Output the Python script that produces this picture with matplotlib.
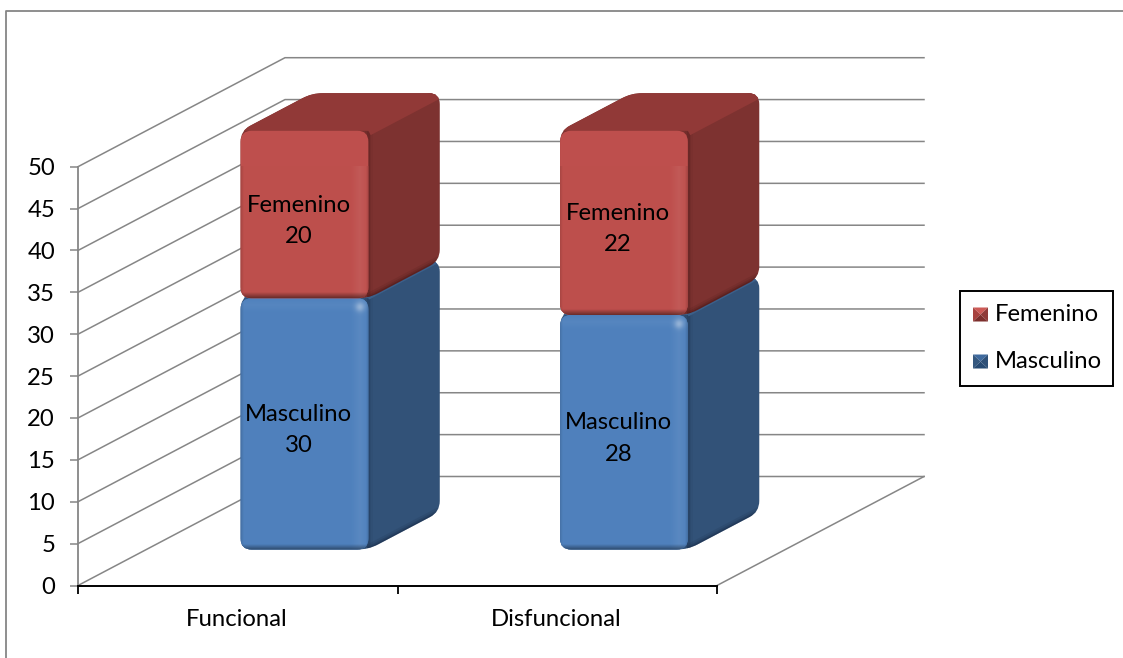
import numpy as np
from matplotlib import pyplot as plt
from matplotlib.patches import PathPatch, Polygon, Rectangle
from matplotlib.path import Path

categories = ['Funcional', 'Disfuncional']
masculino = [30, 28]
femenino = [20, 22]
yticks = list(range(0, 55, 5))

W, H = 1123, 658
# front plane of the chart in pixels
X0, X1 = 78, 717
Y0, Y1 = 585.5, 166.7
PX = (X1 - X0) / 2
PY = (Y0 - Y1) / 50
# oblique shift of the back wall, in data units
DX = 207 / PX
DY = 109 / PY
F0, F1 = 0.33, 0.675
BAR_W = 0.40
GRID = '#868686'
FS = 17.2

plt.rcParams['font.family'] = ['Lato', 'DejaVu Sans']


def rounded_path(pts, r):
    # closed path with rounded corners, r is in pixels
    pts = np.array(pts, float)
    n = len(pts)
    verts, codes = [], []
    for i in range(n):
        p = pts[i]
        prev = pts[i - 1]
        nxt = pts[(i + 1) % n]
        d1 = np.hypot((prev[0] - p[0]) * PX, (prev[1] - p[1]) * PY)
        d2 = np.hypot((nxt[0] - p[0]) * PX, (nxt[1] - p[1]) * PY)
        a = p + (prev - p) * min(r / d1, 0.5)
        b = p + (nxt - p) * min(r / d2, 0.5)
        verts += [a, p, b]
        codes += [Path.MOVETO if i == 0 else Path.LINETO, Path.CURVE3, Path.CURVE3]
    verts.append(verts[0])
    codes.append(Path.CLOSEPOLY)
    return Path(verts, codes)


def front_shading(base, w, h):
    # bevel of the front face, light on top and right, dark along the bottom
    xx, yy = np.meshgrid(np.arange(w) + 0.5, np.arange(h) + 0.5)
    dl, dr = xx, w - xx
    dt, db = yy, h - yy
    light = np.zeros((h, w))
    light += 0.06 * np.clip(1 - np.abs(dr - 9) / 9, 0, 1)
    light += 0.04 * np.clip(1 - np.abs(dt - 7) / 7, 0, 1)
    light += 0.30 * np.exp(-((dr - 9) ** 2 + (dt - 9) ** 2) / 22)
    dark = 0.45 * np.clip(1 - db / 6, 0, 1) + 0.12 * np.clip(1 - dl / 3, 0, 1) + 0.15 * np.clip(1 - dr / 3, 0, 1)
    img = np.zeros((h, w, 3))
    c = np.array(base)
    for k in range(3):
        img[:, :, k] = c[k] + (1 - c[k]) * light
        img[:, :, k] *= 1 - dark
    return img


def clip_to(artist, patch):
    # drop the axes box from the clip, the boxes stand above the front plane
    artist.set_clip_box(None)
    artist.set_clip_path(patch)


def stroke(ax, a, b, color, px, clip, alpha=1.0, z=3):
    line, = ax.plot([a[0], b[0]], [a[1], b[1]], color=color, lw=px * 0.72, alpha=alpha,
                    solid_capstyle='butt', zorder=z)
    clip_to(line, clip)


def draw_box(ax, xc, v0, v1, front, side, top, dark, ridge, z):
    x0 = xc - BAR_W / 2 + F0 * DX
    x1 = xc + BAR_W / 2 + F0 * DX
    y0 = v0 + F0 * DY
    y1 = v1 + F0 * DY
    ox = (F1 - F0) * DX
    oy = (F1 - F0) * DY

    hull = rounded_path([(x0, y0), (x1, y0), (x1 + ox, y0 + oy), (x1 + ox, y1 + oy),
                         (x0 + ox, y1 + oy), (x0, y1)], 11)
    hp = PathPatch(hull, fc=side, ec='none', clip_on=False, zorder=z)
    ax.add_patch(hp)

    tp = Polygon([(x0, y1), (x1, y1), (x1 + ox, y1 + oy), (x0 + ox, y1 + oy)],
                 fc=top, ec='none', zorder=z + 0.1)
    ax.add_patch(tp)
    clip_to(tp, hp)

    # shadow along the lower slope and next to the front face
    for px, al in [(10, 0.10), (6, 0.15), (3, 0.25)]:
        stroke(ax, (x1, y0), (x1 + ox, y0 + oy), dark, px, hp, al, z + 0.2)
        stroke(ax, (x1, y0), (x1, y1), dark, px, hp, al * 0.5, z + 0.2)
    # soft ridge between the top and the side
    stroke(ax, (x1, y1), (x1 + ox, y1 + oy), top, ridge, hp, 1.0, z + 0.2)

    fp = PathPatch(rounded_path([(x0, y0), (x1, y0), (x1, y1), (x0, y1)], 11),
                   fc=front, ec='none', clip_on=False, zorder=z + 0.3)
    ax.add_patch(fp)
    w = int(round((x1 - x0) * PX))
    h = int(round((y1 - y0) * PY))
    im = ax.imshow(front_shading(front, w, h), extent=(x0, x1, y0, y1), aspect='auto',
                   interpolation='bilinear', zorder=z + 0.4)
    clip_to(im, fp)


fig = plt.figure(figsize=(W / 100, H / 100), dpi=100, facecolor='white')

# page layer in pixel units: outer frame and key
page = fig.add_axes([0, 0, 1, 1], zorder=0)
page.set_xlim(0, W)
page.set_ylim(H, 0)
page.axis('off')
page.plot([6, 6, W], [H, 11, 11], color=GRID, lw=1.3)

ax = fig.add_axes([X0 / W, 1 - Y0 / H, (X1 - X0) / W, (Y0 - Y1) / H], zorder=1)
ax.patch.set_alpha(0)

# walls and floor
for v in yticks:
    ax.plot([0, DX, 2 + DX], [v, v + DY, v + DY], color=GRID, lw=1.1, clip_on=False, zorder=1)
ax.plot([2, 2 + DX], [0, DY], color=GRID, lw=1.1, clip_on=False, zorder=1)

# stacked boxes
centers = [0.495, 1.495]
for xc, m, f in zip(centers, masculino, femenino):
    draw_box(ax, xc, 0, m, (0.31, 0.505, 0.74), (0.195, 0.32, 0.47), (0.235, 0.375, 0.54), (0.05, 0.1, 0.2), 3, 3)
    draw_box(ax, xc, m, m + f, (0.745, 0.31, 0.30), (0.49, 0.195, 0.19), (0.57, 0.225, 0.215), (0.2, 0.05, 0.05), 10, 4)
    lx = xc + F0 * DX - 0.018
    ax.text(lx, F0 * DY + m / 2 - 0.75, f'Masculino\n{m}', ha='center', va='center',
            fontsize=FS, linespacing=1.6, zorder=6, color='black', clip_on=False)
    ax.text(lx, F0 * DY + m + f / 2 - 0.75, f'Femenino\n{f}', ha='center', va='center',
            fontsize=FS, linespacing=1.6, zorder=6, color='black', clip_on=False)

ax.set_xlim(0, 2)
ax.set_ylim(0, 50)
ax.set_yticks(yticks)
ax.set_xticks([0, 1, 2])
ax.set_xticklabels([])
ax.set_xticks([0.4977, 1.4977], minor=True)
ax.set_xticklabels(categories, minor=True, fontsize=FS)
ax.tick_params(axis='x', which='major', length=5.5, width=1.3, color='black')
ax.tick_params(axis='x', which='minor', length=0, pad=17)
ax.tick_params(axis='y', length=5.5, width=1.1, color=GRID, labelsize=FS, pad=11)
for s in ['top', 'right']:
    ax.spines[s].set_visible(False)
ax.spines['left'].set_color(GRID)
ax.spines['left'].set_linewidth(1.3)
ax.spines['bottom'].set_color('black')
ax.spines['bottom'].set_linewidth(1.4)

# key
page.add_patch(Rectangle((960, 291), 153, 95, fc='white', ec='black', lw=1.4))
swatches = [('Femenino', 314.5, ['#cd5a56', '#a8423f', '#7c2f2d', '#8f3a38']),
            ('Masculino', 361.5, ['#3f6a9e', '#35587f', '#264a73', '#2e5078'])]
for name, yc, cols in swatches:
    l, r, t, b = 973, 988, yc - 7, yc + 7
    mid = ((l + r) / 2, yc)
    page.add_patch(Polygon([(l, t), (r, t), mid], fc=cols[0], ec='none'))
    page.add_patch(Polygon([(l, t), (l, b), mid], fc=cols[1], ec='none'))
    page.add_patch(Polygon([(l, b), (r, b), mid], fc=cols[2], ec='none'))
    page.add_patch(Polygon([(r, t), (r, b), mid], fc=cols[3], ec='none'))
    page.text(995, yc, name, ha='left', va='center', fontsize=FS, color='black')

fig.savefig('out.png', dpi=100)
